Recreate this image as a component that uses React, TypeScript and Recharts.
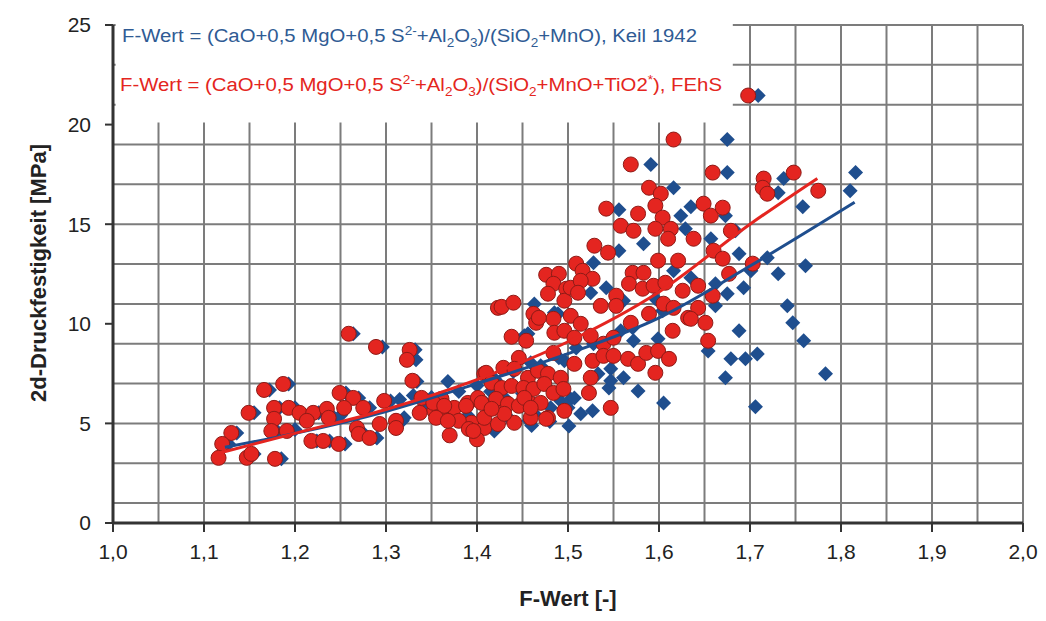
import React from 'react';
import {
    ScatterChart, Scatter, XAxis, YAxis, CartesianGrid, ReferenceArea, Label
} from 'recharts';

// F-Wert nach FEhS (rot, Kreise)
const redPoints: [number, number][] = [
    [1.259, 9.5], [1.289, 8.84], [1.326, 8.69], [1.323, 8.19], [1.329, 7.14], [1.166, 6.68], [1.187, 6.98],
    [1.149, 5.53], [1.177, 5.78], [1.193, 5.78], [1.205, 5.53], [1.22, 5.53], [1.235, 5.73], [1.237, 5.28],
    [1.249, 6.53], [1.264, 6.28], [1.254, 5.78], [1.275, 5.78], [1.298, 6.13], [1.177, 5.23], [1.174, 4.62],
    [1.191, 4.62], [1.213, 5.13], [1.218, 4.12], [1.231, 4.12], [1.248, 3.97], [1.268, 4.77], [1.27, 4.47],
    [1.282, 4.27], [1.293, 4.97], [1.311, 5.13], [1.311, 4.77], [1.13, 4.52], [1.12, 3.97], [1.116, 3.27],
    [1.147, 3.27], [1.152, 3.47], [1.178, 3.22],
    [1.339, 6.28], [1.353, 5.63], [1.364, 5.38], [1.375, 5.78], [1.39, 6.03], [1.401, 6.28], [1.394, 5.03],
    [1.408, 4.77], [1.423, 4.97], [1.419, 5.78], [1.361, 6.23], [1.38, 5.13], [1.391, 4.72], [1.408, 7.49],
    [1.423, 10.8], [1.37, 4.4], [1.4, 4.2],
    [1.476, 12.46], [1.49, 12.51], [1.484, 12.01], [1.478, 11.51], [1.498, 11.76], [1.427, 10.85], [1.44, 11.06],
    [1.462, 10.5], [1.465, 10.05], [1.484, 10.25], [1.496, 11.16], [1.485, 9.55], [1.496, 9.65], [1.438, 9.35],
    [1.454, 9.15], [1.446, 8.29], [1.41, 7.54], [1.429, 7.79], [1.441, 7.74], [1.456, 7.29], [1.467, 7.64],
    [1.478, 7.49], [1.492, 7.29], [1.416, 7.04], [1.427, 6.78], [1.438, 6.88], [1.451, 6.78], [1.462, 6.73],
    [1.474, 6.98], [1.484, 6.53], [1.495, 6.73], [1.405, 6.03], [1.421, 6.23], [1.434, 5.98], [1.446, 5.88],
    [1.459, 5.98], [1.47, 6.03], [1.352, 6.03], [1.364, 5.88], [1.388, 5.88], [1.337, 5.53], [1.355, 5.28],
    [1.368, 5.13], [1.408, 5.28], [1.441, 5.03], [1.459, 5.28], [1.478, 5.28], [1.496, 5.63], [1.396, 4.62],
    [1.43, 5.48], [1.416, 5.73], [1.452, 6.28], [1.476, 5.23], [1.459, 5.78],
    [1.589, 16.83], [1.602, 16.53], [1.542, 15.78], [1.577, 15.53], [1.596, 15.93], [1.604, 15.33], [1.558, 14.92],
    [1.572, 14.67], [1.596, 14.77], [1.613, 14.77], [1.61, 14.27], [1.529, 13.92], [1.544, 13.57], [1.599, 13.17],
    [1.621, 13.17], [1.509, 13.02], [1.516, 12.66], [1.527, 12.26], [1.503, 11.81], [1.514, 12.16], [1.511, 11.56],
    [1.571, 12.56], [1.583, 12.56], [1.567, 12.01], [1.582, 11.76], [1.594, 11.91], [1.607, 12.06], [1.626, 11.66],
    [1.553, 11.41], [1.536, 10.9], [1.553, 10.9], [1.569, 10.05], [1.589, 10.5], [1.605, 11.01], [1.616, 10.8],
    [1.632, 10.3], [1.615, 9.65], [1.468, 10.3], [1.503, 10.4], [1.514, 10.0], [1.507, 9.3], [1.525, 9.4],
    [1.539, 9.0], [1.55, 9.3], [1.484, 8.54], [1.507, 7.99], [1.527, 8.14], [1.539, 8.39], [1.55, 8.39],
    [1.566, 8.24], [1.577, 7.99], [1.586, 8.54], [1.599, 8.64], [1.611, 8.24], [1.596, 7.54], [1.525, 7.29],
    [1.523, 6.53], [1.547, 5.78],
    [1.616, 19.25], [1.659, 17.59], [1.715, 17.29], [1.714, 16.83], [1.719, 16.53], [1.748, 17.59], [1.775, 16.68],
    [1.649, 16.03], [1.657, 15.43], [1.67, 15.83], [1.679, 14.67], [1.638, 14.27], [1.66, 13.67], [1.67, 13.27],
    [1.703, 13.02], [1.677, 12.51], [1.643, 11.91], [1.659, 11.41], [1.643, 10.8], [1.635, 10.25], [1.651, 10.05],
    [1.654, 9.15], [1.569, 18.0], [1.698, 21.46],
];

// F-Wert nach Keil 1942 (blau, Rauten)
const bluePoints: [number, number][] = [
    [1.264, 9.5], [1.296, 8.84], [1.332, 8.7], [1.333, 8.19], [1.334, 7.1], [1.172, 6.68], [1.193, 6.98],
    [1.155, 5.53], [1.183, 5.78], [1.2, 5.78], [1.226, 5.53], [1.243, 5.28], [1.256, 6.53], [1.27, 6.28],
    [1.282, 5.78], [1.305, 6.13], [1.18, 4.62], [1.224, 4.12], [1.238, 4.12], [1.255, 3.97], [1.276, 4.47],
    [1.29, 4.27], [1.318, 5.13], [1.136, 4.52], [1.127, 3.97], [1.155, 3.47], [1.185, 3.22], [1.2, 4.7],
    [1.25, 5.4], [1.315, 6.2], [1.368, 7.1], [1.345, 5.9], [1.33, 6.4], [1.32, 5.28],
    [1.463, 11.0], [1.489, 10.5], [1.456, 9.5], [1.5, 5.78], [1.501, 4.87], [1.419, 4.62], [1.459, 8.04],
    [1.452, 9.4], [1.496, 8.14], [1.528, 9.0], [1.509, 8.79], [1.547, 7.74], [1.561, 7.29], [1.545, 6.78],
    [1.577, 6.63], [1.605, 6.03], [1.503, 6.23], [1.514, 5.48], [1.527, 5.63], [1.457, 5.13], [1.547, 7.14],
    [1.438, 5.13], [1.463, 5.48], [1.481, 5.78], [1.492, 6.13], [1.507, 6.28], [1.533, 7.49], [1.44, 7.6],
    [1.47, 7.9], [1.49, 8.3], [1.42, 7.2], [1.45, 6.5], [1.41, 6.0], [1.39, 5.4], [1.43, 6.3], [1.46, 4.9],
    [1.48, 5.1], [1.38, 6.6], [1.36, 5.6], [1.35, 6.3], [1.4, 6.9], [1.43, 5.6], [1.415, 6.6], [1.485, 10.55],
    [1.616, 16.83], [1.556, 15.73], [1.624, 15.43], [1.583, 14.02], [1.556, 13.67], [1.528, 13.07], [1.616, 12.66],
    [1.542, 11.81], [1.525, 11.56], [1.561, 11.16], [1.596, 11.26], [1.604, 10.65], [1.571, 9.8], [1.558, 9.65],
    [1.572, 9.15], [1.599, 9.25], [1.591, 18.0],
    [1.675, 19.25], [1.675, 17.59], [1.737, 17.29], [1.731, 16.58], [1.816, 17.59], [1.81, 16.68], [1.758, 15.88],
    [1.635, 15.88], [1.673, 15.43], [1.629, 14.77], [1.657, 14.27], [1.684, 14.67], [1.688, 13.52], [1.719, 13.32],
    [1.731, 12.51], [1.761, 12.91], [1.701, 12.66], [1.635, 12.31], [1.693, 11.81], [1.675, 11.51], [1.662, 12.01],
    [1.662, 10.9], [1.741, 10.9], [1.747, 10.05], [1.759, 9.15], [1.688, 9.65], [1.654, 8.64], [1.679, 8.24],
    [1.695, 8.24], [1.708, 8.49], [1.673, 7.29], [1.783, 7.49], [1.706, 5.83], [1.709, 21.46],
];

// Trendlinien
const blueTrend: [number, number][] = [
    [1.123, 3.8], [1.2, 4.5], [1.3, 5.6], [1.4, 7.0], [1.5, 8.5], [1.6, 10.3], [1.7, 12.9], [1.815, 16.1],
];
const redTrend: [number, number][] = [
    [1.116, 3.5], [1.2, 4.5], [1.3, 5.7], [1.4, 7.2], [1.5, 9.1], [1.6, 11.6], [1.7, 15.0], [1.774, 17.3],
];

const xTicks = [1.0, 1.1, 1.2, 1.3, 1.4, 1.5, 1.6, 1.7, 1.8, 1.9, 2.0];
const yTicks = [0, 5, 10, 15, 20, 25];
const xGrid = [1.05, 1.1, 1.15, 1.2, 1.25, 1.3, 1.35, 1.4, 1.45, 1.5, 1.55, 1.6, 1.65, 1.7, 1.75, 1.8, 1.85, 1.9, 1.95, 2.0];
const yGrid = [1, 2, 3, 4, 5, 6, 7, 8, 9, 10, 11, 12, 13, 14, 15, 16, 17, 18, 19, 20, 21, 22, 23, 24, 25];

const BLUE = '#1f4e8e';
const RED = '#e42520';
const FONT = '"Liberation Sans", Arial, sans-serif';

const toXY = (pts: [number, number][]) => pts.map(([x, y]) => ({ x, y }));
const fmt = (v: number) => v.toFixed(1).replace('.', ',');

const RedDot = (props: any) => (
    <circle cx={props.cx} cy={props.cy} r={7.5} fill={RED} stroke="#8e1b17" strokeWidth={1} />
);

const BlueDiamond = (props: any) => {
    const { cx, cy } = props;
    const d = 7.5;
    return <path d={`M${cx},${cy - d}L${cx + d},${cy}L${cx},${cy + d}L${cx - d},${cy}Z`} fill={BLUE} />;
};

const NoShape = () => <g />;

const Sub = ({ t }: { t: string }) => <tspan fontSize={12} dy={5}>{t}</tspan>;

// Formeltexte oben links
const FormulaBox = () => (
    <g fontFamily={FONT} fontSize={18}>
        <text x={114} y={34} fill="#2f5b94" textLength={575} lengthAdjust="spacingAndGlyphs">
            F-Wert = (CaO+0,5 MgO+0,5 S
            <tspan fontSize={12} dy={-7}>2-</tspan>
            <tspan dy={7}>+Al</tspan><Sub t="2" /><tspan dy={-5}>O</tspan><Sub t="3" />
            <tspan dy={-5}>)/(SiO</tspan><Sub t="2" /><tspan dy={-5}>+MnO),  Keil 1942</tspan>
        </text>
        <text x={112} y={83} fill={RED} textLength={602} lengthAdjust="spacingAndGlyphs">
            F-Wert = (CaO+0,5 MgO+0,5 S
            <tspan fontSize={12} dy={-7}>2-</tspan>
            <tspan dy={7}>+Al</tspan><Sub t="2" /><tspan dy={-5}>O</tspan><Sub t="3" />
            <tspan dy={-5}>)/(SiO</tspan><Sub t="2" /><tspan dy={-5}>+MnO+TiO2</tspan>
            <tspan fontSize={12} dy={-7}>*</tspan><tspan dy={7}>),  FEhS</tspan>
        </text>
    </g>
);

const YTitle = () => (
    <text
        x={30}
        y={265}
        transform="rotate(-90, 30, 265)"
        textAnchor="middle"
        dominantBaseline="central"
        fontFamily={FONT}
        fontWeight="bold"
        fontSize={22}
        fill="#222"
    >
        2d-Druckfestigkeit  [MPa]
    </text>
);

const XTitle = () => (
    <text x={560} y={598} textAnchor="middle" fontFamily={FONT} fontWeight="bold" fontSize={22} fill="#222">
        F-Wert [-]
    </text>
);

const App: React.FC = () => {
    const tickStyle = { fontSize: 21, fill: '#222', fontFamily: FONT };
    return (
        <div style={{ width: 1030, height: 610, background: '#fff' }}>
            <ScatterChart width={1030} height={610} margin={{ top: 17, right: 15, bottom: 0, left: 0 }}>
                <CartesianGrid
                    horizontalValues={yGrid}
                    verticalValues={xGrid}
                    stroke="#7c7c7c"
                    strokeWidth={2}
                />
                <XAxis
                    dataKey="x"
                    type="number"
                    domain={[1, 2]}
                    ticks={xTicks}
                    tickFormatter={fmt}
                    tick={tickStyle}
                    height={95}
                    tickSize={9}
                    tickMargin={12}
                    axisLine={{ stroke: '#333', strokeWidth: 3 }}
                    tickLine={{ stroke: '#333', strokeWidth: 2 }}
                    allowDataOverflow
                >
                    <Label content={XTitle} />
                </XAxis>
                <YAxis
                    dataKey="y"
                    type="number"
                    domain={[0, 25]}
                    ticks={yTicks}
                    tick={tickStyle}
                    width={105}
                    tickSize={8}
                    tickMargin={14}
                    axisLine={{ stroke: '#333', strokeWidth: 3 }}
                    tickLine={{ stroke: '#333', strokeWidth: 2 }}
                    allowDataOverflow
                >
                    <Label content={YTitle} />
                </YAxis>
                <ReferenceArea
                    x1={1.004}
                    x2={1.68}
                    y1={20.15}
                    y2={25}
                    fill="#fff"
                    fillOpacity={1}
                    stroke="#fff"
                    strokeWidth={2}
                    label={FormulaBox}
                />
                <Scatter data={toXY(bluePoints)} shape={BlueDiamond} isAnimationActive={false} />
                <Scatter data={toXY(redPoints)} shape={RedDot} isAnimationActive={false} />
                <Scatter
                    data={toXY(blueTrend)}
                    shape={NoShape}
                    line={{ stroke: BLUE, strokeWidth: 3 }}
                    lineJointType="monotoneX"
                    isAnimationActive={false}
                />
                <Scatter
                    data={toXY(redTrend)}
                    shape={NoShape}
                    line={{ stroke: RED, strokeWidth: 3 }}
                    lineJointType="monotoneX"
                    isAnimationActive={false}
                />
            </ScatterChart>
        </div>
    );
};

export default App;
